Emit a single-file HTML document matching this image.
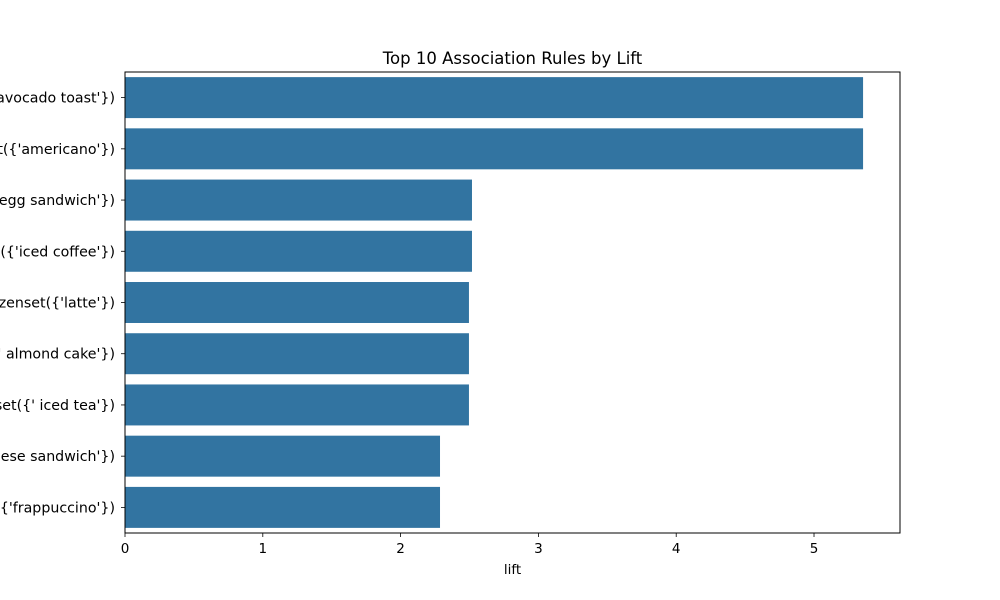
<!DOCTYPE html>
<html><head><meta charset="utf-8"><style>
html,body{margin:0;padding:0;background:#fff}
svg{display:block;font-family:"DejaVu Sans","Liberation Sans",sans-serif}
</style></head><body>
<svg id="chart" width="1000" height="600"></svg>
<script>
const categories = [
"frozenset({'americano'}) -> frozenset({'avocado toast'})",
"frozenset({'avocado toast'}) -> frozenset({'americano'})",
"frozenset({'iced coffee'}) -> frozenset({'egg sandwich'})",
"frozenset({'egg sandwich'}) -> frozenset({'iced coffee'})",
"frozenset({' almond cake'}) -> frozenset({'latte'})",
"frozenset({'latte'}) -> frozenset({' almond cake'})",
"frozenset({'latte'}) -> frozenset({' iced tea'})",
"frozenset({'frappuccino'}) -> frozenset({'ham and cheese sandwich'})",
"frozenset({'ham and cheese sandwich'}) -> frozenset({'frappuccino'})"
];
const liftValues = [5.356, 5.356, 2.518, 2.518, 2.496, 2.496, 2.496, 2.286, 2.286];
const xTicks = [0, 1, 2, 3, 4, 5];
const xMax = 5.624;

const NS = "http://www.w3.org/2000/svg";
const svg = document.getElementById('chart');
const L = 125, R = 900, T = 72, B = 533;
const x = v => L + (v / xMax) * (R - L);
const band = (B - T) / categories.length;
const y = i => T + band * i;
function mk(tag, attrs, text) {
  const e = document.createElementNS(NS, tag);
  for (const k in attrs) e.setAttribute(k, attrs[k]);
  if (text !== undefined) e.textContent = text;
  svg.appendChild(e);
  return e;
}
categories.forEach((c, i) => {
  const r = mk('rect', {x: x(0), y: y(i) + band * 0.1, width: x(liftValues[i]) - x(0), height: band * 0.8, fill: '#3274a1'});
  
  
  const cy = y(i) + band / 2;
  const tk = mk('line', {x1: L - 4, x2: L, y1: cy, y2: cy, stroke: '#000', 'stroke-width': 0.8});
  
  
  const t = mk('text', {x: L - 10, y: cy + 5, 'text-anchor': 'end', 'font-size': 14.2, fill: '#000'}, c);
  
  
});
xTicks.forEach(v => {
  const tk = mk('line', {x1: x(v), x2: x(v), y1: B, y2: B + 4, stroke: '#000', 'stroke-width': 0.8});
  
  
  const t = mk('text', {x: x(v), y: B + 20, 'text-anchor': 'middle', 'font-size': 13.5, fill: '#000'}, String(v));
  
  
});
const frame = mk('rect', {x: L, y: T, width: R - L, height: B - T, fill: 'none', stroke: '#000', 'stroke-width': 1});


const xt = mk('text', {x: (L + R) / 2, y: 574, 'text-anchor': 'middle', 'font-size': 13.5, fill: '#000'}, 'lift');


const title = mk('text', {x: (L + R) / 2, y: 64, 'text-anchor': 'middle', 'font-size': 16.5, fill: '#000'}, 'Top 10 Association Rules by Lift');


</script>
</body></html>
